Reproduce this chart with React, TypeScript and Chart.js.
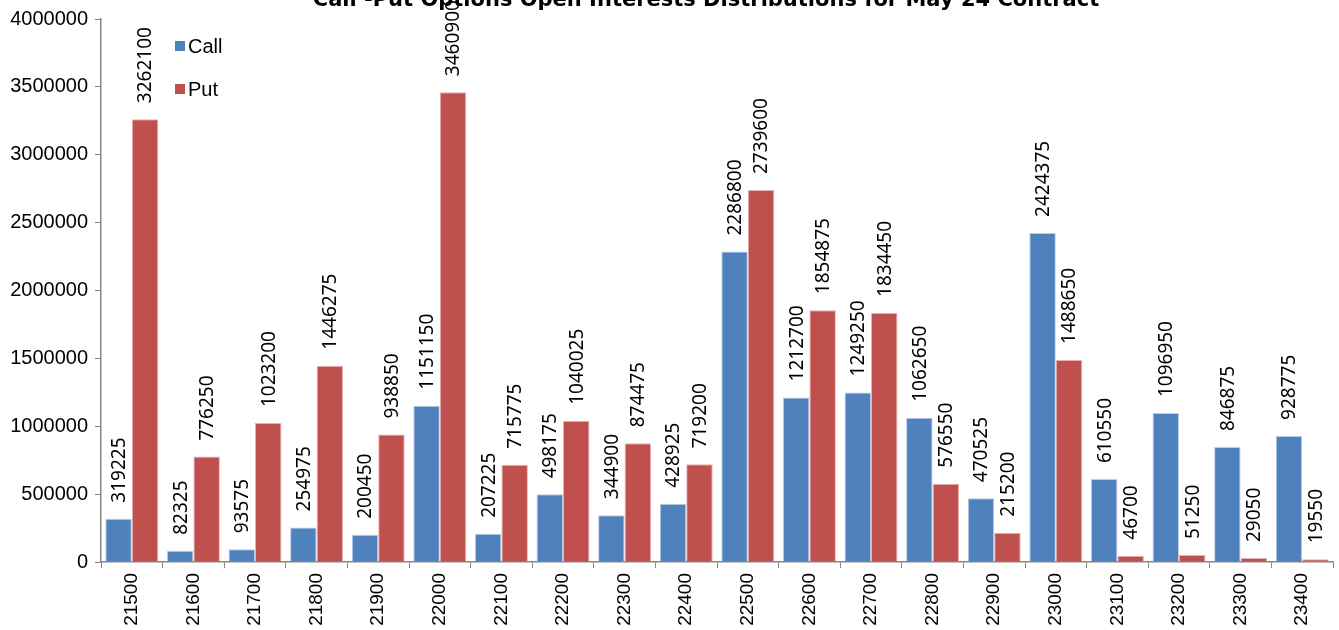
import React, { useEffect, useRef } from "react";
import { Chart, registerables } from "chart.js";

Chart.register(...registerables);

const strikes = ["21500","21600","21700","21800","21900","22000","22100","22200","22300","22400","22500","22600","22700","22800","22900","23000","23100","23200","23300","23400"];
const callOI = [319225, 82325, 93575, 254975, 200450, 1151150, 207225, 498175, 344900, 428925, 2286800, 1212700, 1249250, 1062650, 470525, 2424375, 610550, 1096950, 846875, 928775];
const putOI = [3262100, 776250, 1023200, 1446275, 938850, 3460900, 715775, 1040025, 874475, 719200, 2739600, 1854875, 1834450, 576550, 215200, 1488650, 46700, 51250, 29050, 19550];
const yMin = 0;
const yMax = 4000000;
const yStep = 500000;
const titleText = "Call -Put Options Open Interests Distributions for May 24 Contract";

const CALL_COLOR = "#4F81BD";
const PUT_COLOR = "#C0504D";

const labelPlugin = {
  id: "barLabels",
  afterDatasetsDraw(chart: any) {
    const ctx = chart.ctx;
    ctx.save();
    ctx.font = "19px 'Noto Sans'";
    ctx.fillStyle = "#000";
    ctx.textAlign = "left";
    ctx.textBaseline = "middle";
    chart.data.datasets.forEach((ds: any, di: number) => {
      const meta = chart.getDatasetMeta(di);
      meta.data.forEach((el: any, i: number) => {
        ctx.save();
        ctx.translate(el.x + 1, el.y - 16);
        ctx.rotate(-Math.PI / 2);
        ctx.fillText(String(ds.data[i]), 0, 0);
        ctx.restore();
      });
    });
    ctx.restore();
  },
};

const titleLegendPlugin = {
  id: "titleLegend",
  afterDraw(chart: any) {
    const ctx = chart.ctx;
    ctx.save();
    ctx.font = "bold 21px 'DejaVu Sans'";
    ctx.fillStyle = "#000";
    ctx.textAlign = "center";
    ctx.textBaseline = "alphabetic";
    ctx.fillText(titleText, 706, 6);

    ctx.font = "20px 'Liberation Sans'";
    ctx.textAlign = "left";
    ctx.textBaseline = "middle";
    chart.data.datasets.forEach((ds: any, di: number) => {
      const cy = 46 + di * 43;
      ctx.fillStyle = ds.backgroundColor;
      ctx.fillRect(175, cy - 5, 10, 10);
      ctx.fillStyle = "#000";
      ctx.fillText(ds.label, 188, cy + 1);
    });
    ctx.restore();
  },
};

export default function App() {
  const ref = useRef<HTMLCanvasElement | null>(null);

  useEffect(() => {
    if (!ref.current) return;
    const chart = new Chart(ref.current, {
      type: "bar",
      data: {
        labels: strikes,
        datasets: [
          {
            label: "Call",
            data: callOI,
            backgroundColor: CALL_COLOR,
            borderColor: "rgba(180,200,230,0.9)",
            borderWidth: 1,
            categoryPercentage: 0.86,
            barPercentage: 1.0,
          },
          {
            label: "Put",
            data: putOI,
            backgroundColor: PUT_COLOR,
            borderColor: "rgba(230,170,168,0.9)",
            borderWidth: 1,
            categoryPercentage: 0.86,
            barPercentage: 1.0,
          },
        ],
      },
      options: {
        animation: false,
        responsive: true,
        maintainAspectRatio: false,
        layout: { padding: { top: 18, right: 6, bottom: 0, left: 0 } },
        plugins: {
          legend: { display: false },
          title: { display: false },
          tooltip: { enabled: false },
        },
        scales: {
          x: {
            grid: {
              display: true,
              drawOnChartArea: false,
              drawTicks: true,
              tickLength: 6,
              color: "#868686",
              offset: true,
            },
            border: { display: true, color: "#868686", width: 1.5 },
            ticks: {
              color: "#000",
              font: { family: "'Liberation Sans'", size: 19 },
              minRotation: 90,
              maxRotation: 90,
              padding: 5,
              autoSkip: false,
            },
            afterFit(scale: any) {
              scale.height = 68;
            },
          },
          y: {
            min: yMin,
            max: yMax,
            grid: {
              display: true,
              drawOnChartArea: false,
              drawTicks: true,
              tickLength: 6,
              color: "#868686",
            },
            border: { display: true, color: "#868686", width: 1.5 },
            ticks: {
              stepSize: yStep,
              color: "#000",
              font: { family: "'Liberation Sans'", size: 20 },
              padding: 7,
              callback: (v: any) => String(v),
            },
            afterFit(scale: any) {
              scale.width = 101;
            },
          },
        },
      },
      plugins: [labelPlugin, titleLegendPlugin],
    });
    return () => chart.destroy();
  }, []);

  return (
    <div style={{ position: "absolute", left: 0, top: 0, width: 1339, height: 630, background: "#fff" }}>
      <canvas ref={ref} />
    </div>
  );
}
